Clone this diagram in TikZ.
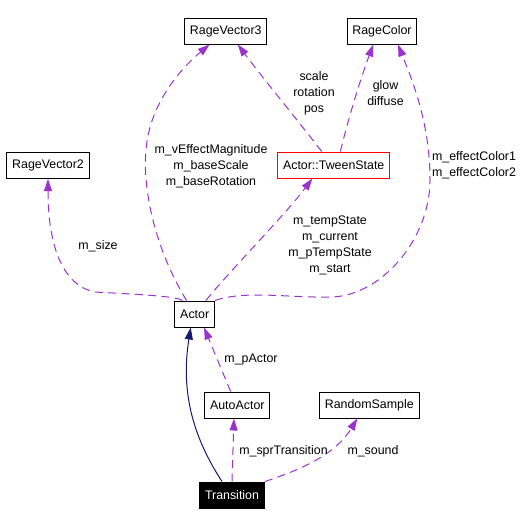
\documentclass[tikz,border=0pt]{standalone}
\usepackage{fontspec}
\setmainfont{Liberation Sans}
\usetikzlibrary{arrows.meta}
\definecolor{edgepurple}{HTML}{9A32CD}
\definecolor{edgenavy}{HTML}{191970}

\begin{document}
\begin{tikzpicture}[x=0.75pt, y=-0.75pt,
        font=\fontsize{9.3}{12}\selectfont,
        cls/.style={draw=black, line width=0.75pt, minimum height=19.5pt, inner xsep=4pt, inner ysep=0pt},
        use/.style={draw=edgepurple, line width=0.75pt, dash pattern=on 6pt off 4pt, -{Triangle[length=9pt, width=6pt]}},
        inherit/.style={draw=edgenavy, line width=0.75pt, -{Triangle[length=9pt, width=6pt]}},
        lbl/.style={align=center, inner sep=0pt}]
            \useasboundingbox (0,0) rectangle (531,526);

            \node[cls] (RageVector3) at (225.8, 31) {RageVector3};
            \node[cls] (RageColor) at (382, 31) {RageColor};
            \node[cls, draw=red] (Tween) at (333.7, 165) {Actor::TweenState};
            \node[cls] (RageVector2) at (48, 165.5) {RageVector2};
            \node[cls] (Actor) at (194.7, 314) {Actor};
            \node[cls] (AutoActor) at (237.3, 405) {AutoActor};
            \node[cls] (RandomSample) at (369.3, 405) {RandomSample};
            \node[cls, fill=black, text=white] (Transition) at (232, 495) {Transition};

            \draw[use] (Actor) .. controls (150, 240) and (143, 180) .. (146, 150) .. controls (150, 100) and (185, 65) .. (RageVector3);
            \draw[use] (Actor) .. controls (178, 296) and (130, 294) .. (95, 292) .. controls (60, 285) and (48, 240) .. (RageVector2);
            \draw[use] (Actor) .. controls (235, 265) and (285, 215) .. ([xshift=-16pt]Tween.south);
            \draw[use] (Actor.north east) .. controls (245, 290) and (290, 298) .. (330, 297) .. controls (380, 297) and (430, 240) .. (430, 180) .. controls (430, 120) and (410, 75) .. ([xshift=12pt]RageColor.south);
            \draw[use] ([xshift=-9pt]Tween.north) .. controls (295, 117) and (262, 77) .. ([xshift=9pt]RageVector3.south);
            \draw[use] ([xshift=5pt]Tween.north) .. controls (348, 120) and (360, 80) .. ([xshift=-6.5pt]RageColor.south);
            \draw[use] ([xshift=-5pt]AutoActor.north) -- ([xshift=7pt]Actor.south);
            \draw[inherit] ([xshift=-7.5pt]Transition.north) .. controls (195, 440) and (180, 395) .. ([xshift=-3pt]Actor.south);
            \draw[use] (Transition.north) -- ([xshift=-2.5pt]AutoActor.south);
            \draw[use] (Transition.north east) .. controls (300, 470) and (335, 455) .. ([xshift=-9pt]RandomSample.south);

            \node[lbl] (lBase) at (211, 166) {m\_vEffectMagnitude\\m\_baseScale\\m\_baseRotation};
            \node[lbl] (lScale) at (314, 93) {scale\\rotation\\pos};
            \node[lbl] (lGlow) at (385.5, 93.5) {glow\\diffuse};
            \node[lbl] (lSize) at (98, 246) {m\_size};
            \node[lbl] (lTemp) at (330, 245.5) {m\_tempState\\m\_current\\m\_pTempState\\m\_start};
            \node[lbl] (lColor) at (474, 165.3) {m\_effectColor1\\m\_effectColor2};
            \node[lbl] (lPActor) at (251, 360) {m\_pActor};
            \node[lbl] (lSpr) at (283.5, 451) {m\_sprTransition};
            \node[lbl] (lSound) at (373, 451) {m\_sound};

        \end{tikzpicture}
\end{document}
